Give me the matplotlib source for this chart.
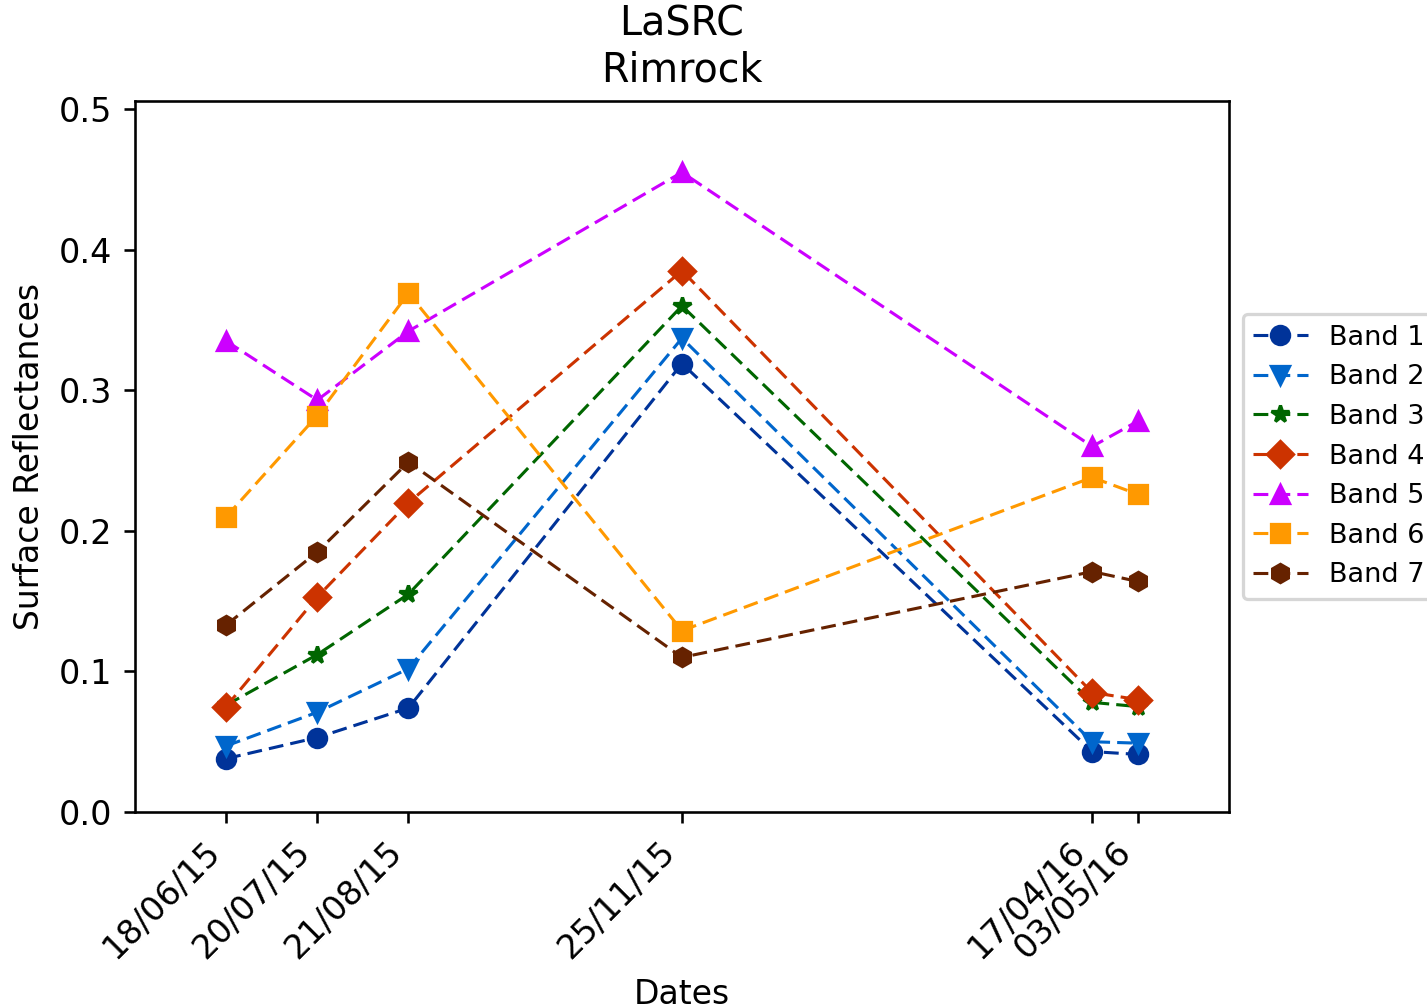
import datetime as dt

import matplotlib
matplotlib.use("Agg")
import matplotlib.pyplot as plt
import matplotlib.dates as mdates

# acquisition dates and surface reflectance per band
dates = ["18/06/15", "20/07/15", "21/08/15", "25/11/15", "17/04/16", "03/05/16"]
band1 = [0.038, 0.053, 0.074, 0.319, 0.043, 0.041]
band2 = [0.047, 0.071, 0.102, 0.337, 0.050, 0.049]
band3 = [0.076, 0.112, 0.155, 0.360, 0.078, 0.075]
band4 = [0.075, 0.153, 0.220, 0.385, 0.085, 0.080]
band5 = [0.335, 0.293, 0.342, 0.455, 0.260, 0.278]
band6 = [0.210, 0.282, 0.369, 0.129, 0.238, 0.226]
band7 = [0.133, 0.185, 0.249, 0.110, 0.171, 0.164]

labels = ["Band 1", "Band 2", "Band 3", "Band 4", "Band 5", "Band 6", "Band 7"]
colors = ["#003399", "#0066cc", "#006600", "#cc3300", "#cc00ff", "#ff9900", "#662200"]
markers = ["o", "v", "*", "D", "^", "s", "h"]

x = [dt.datetime.strptime(d, "%d/%m/%y") for d in dates]
series = [band1, band2, band3, band4, band5, band6, band7]

fig = plt.figure(figsize=(1427 / 234, 1008 / 234), dpi=234)
ax = fig.add_axes([0.0946, 0.1944, 0.7666, 0.7054])

for y, lab, c, m in zip(series, labels, colors, markers):
    ax.plot(x, y, linestyle=(0, (4.8, 2.3)), linewidth=0.95, color=c,
            marker=m, markersize=5.6, label=lab)

ax.set_xticks(x)
ax.xaxis.set_major_formatter(mdates.DateFormatter("%d/%m/%y"))
plt.setp(ax.get_xticklabels(), rotation=45, ha="right", fontsize=10.3)
plt.setp(ax.get_yticklabels(), fontsize=10.3)
ax.margins(x=0.1)
ax.set_ylim(0, 0.5057)

ax.set_xlabel("Dates", fontsize=10.15)
ax.set_ylabel("Surface Reflectances", fontsize=10.15)
ax.set_title("LaSRC\nRimrock", fontsize=12.2)
ax.legend(loc="center left", bbox_to_anchor=(1.0, 0.5), fontsize=8.35)

fig.savefig("out.png", dpi=234)
